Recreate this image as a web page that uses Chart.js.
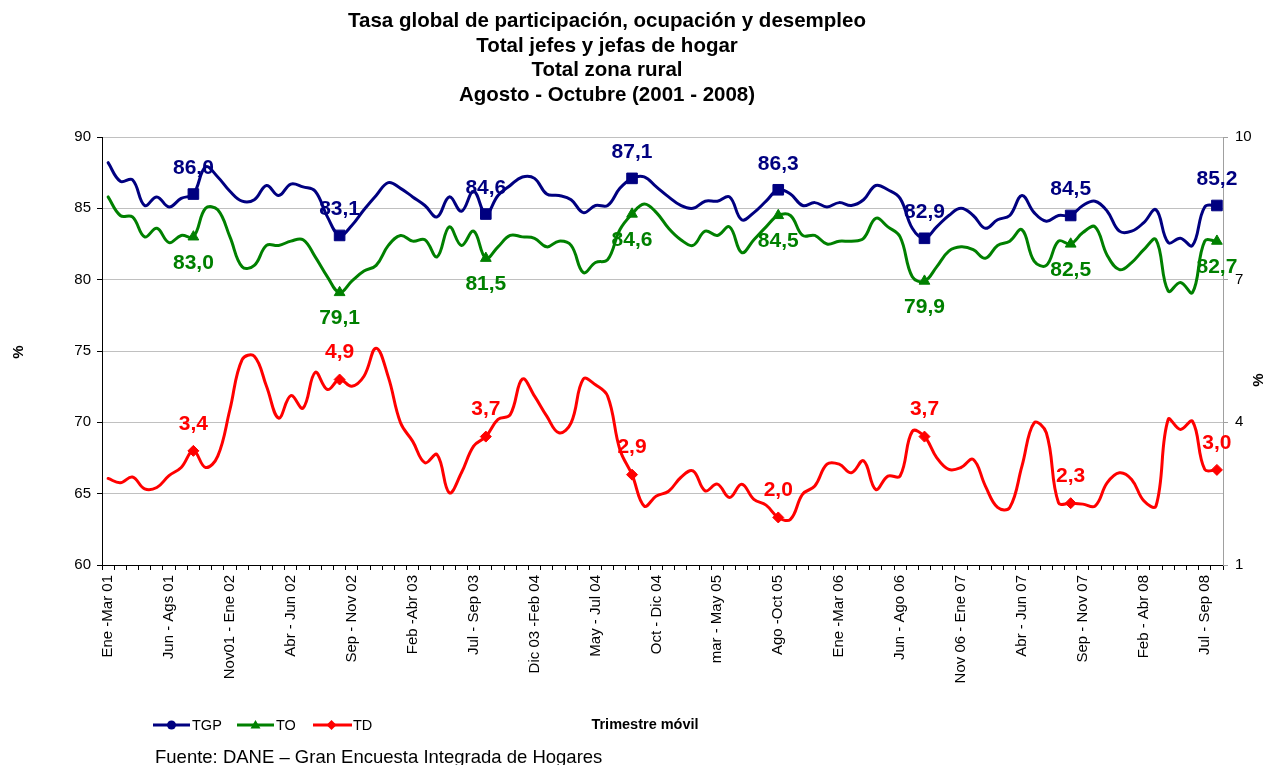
<!DOCTYPE html>
<html lang="es">
<head>
<meta charset="utf-8">
<title>Tasa global de participación, ocupación y desempleo</title>
<script src="https://cdn.jsdelivr.net/npm/chart.js@4.4.1/dist/chart.umd.min.js"></script>
<style>
  body { margin: 0; background: #fff; }
  #wrap { position: relative; width: 1265px; height: 765px; font-family: "Liberation Sans", Arial, sans-serif; color: #000; overflow: hidden; }
  #c { position: absolute; left: 0; top: 0; }
  .title { position: absolute; left: 307px; width: 600px; top: 8px; text-align: center; font-weight: bold; font-size: 20.5px; line-height: 24.6px; }
  .pct { position: absolute; width: 20px; height: 18px; text-align: center; font-weight: bold; font-size: 15px; line-height: 18px; transform: rotate(-90deg); }
  .xtitle { position: absolute; left: 545px; width: 200px; top: 715px; text-align: center; font-weight: bold; font-size: 14.5px; line-height: 18px; }
  .leg { position: absolute; top: 716px; font-size: 14.5px; line-height: 18px; }
  .foot { position: absolute; left: 155px; top: 746px; font-size: 18.5px; line-height: 22px; white-space: nowrap; }
</style>
</head>
<body>
<div id="wrap">
  <canvas id="c" width="1265" height="765"></canvas>
  <div class="title">Tasa global de participación, ocupación y desempleo<br>Total jefes y jefas de hogar<br>Total zona rural<br>Agosto - Octubre (2001 - 2008)</div>
  <div class="pct" style="left:8px;top:343px">%</div>
  <div class="pct" style="left:1248px;top:371px">%</div>
  <svg style="position:absolute;left:140px;top:715px" width="240" height="20">
    <line x1="13" y1="10" x2="50" y2="10" stroke="#000080" stroke-width="3"/>
    <circle cx="31.5" cy="10" r="4.5" fill="#000080"/>
    <line x1="97" y1="10" x2="134" y2="10" stroke="#008000" stroke-width="3"/>
    <polygon points="115.5,5 120.5,13.5 110.5,13.5" fill="#008000"/>
    <line x1="173" y1="10" x2="212" y2="10" stroke="#ff0000" stroke-width="3"/>
    <polygon points="191.5,5 196.5,10 191.5,15 186.5,10" fill="#ff0000"/>
  </svg>
  <div class="leg" style="left:192px">TGP</div>
  <div class="leg" style="left:276px">TO</div>
  <div class="leg" style="left:353px">TD</div>
  <div class="xtitle">Trimestre móvil</div>
  <div class="foot">Fuente: DANE – Gran Encuesta Integrada de Hogares</div>
</div>
<script>
// ── Data: trimestres móviles Ene-Mar 01 ... Ago-Oct 08 ──────────────────────
const periods = [
  'Ene -Mar 01', 'Feb-Abr 01', 'Mar-May 01', 'Abr-Jun 01', 'May-Jul 01', 'Jun - Ags 01', 'Jul-Sep 01', 'Ago-Oct 01', 'Sep-Nov 01', 'Oct-Dic 01',
  'Nov01 - Ene 02', 'Dic 01-Feb 02', 'Ene-Mar 02', 'Feb-Abr 02', 'Mar-May 02', 'Abr - Jun 02', 'May-Jul 02', 'Jun-Ago 02', 'Jul-Sep 02', 'Ago-Oct 02',
  'Sep - Nov 02', 'Oct-Dic 02', 'Nov 02-Ene 03', 'Dic 02-Feb 03', 'Ene-Mar 03', 'Feb -Abr 03', 'Mar-May 03', 'Abr-Jun 03', 'May-Jul 03', 'Jun-Ago 03',
  'Jul - Sep 03', 'Ago-Oct 03', 'Sep-Nov 03', 'Oct-Dic 03', 'Nov 03-Ene 04', 'Dic 03 -Feb 04', 'Ene-Mar 04', 'Feb-Abr 04', 'Mar-May 04', 'Abr-Jun 04',
  'May - Jul 04', 'Jun-Ago 04', 'Jul-Sep 04', 'Ago-Oct 04', 'Sep-Nov 04', 'Oct - Dic 04', 'Nov 04-Ene 05', 'Dic 04-Feb 05', 'Ene-Mar 05', 'Feb-Abr 05',
  'mar - May 05', 'Abr-Jun 05', 'May-Jul 05', 'Jun-Ago 05', 'Jul-Sep 05', 'Ago -Oct 05', 'Sep-Nov 05', 'Oct-Dic 05', 'Nov 05-Ene 06', 'Dic 05-Feb 06',
  'Ene -Mar 06', 'Feb-Abr 06', 'Mar-May 06', 'Abr-Jun 06', 'May-Jul 06', 'Jun - Ago 06', 'Jul-Sep 06', 'Ago-Oct 06', 'Sep-Nov 06', 'Oct-Dic 06',
  'Nov 06 - Ene 07', 'Dic 06-Feb 07', 'Ene-Mar 07', 'Feb-Abr 07', 'Mar-May 07', 'Abr - Jun 07', 'May-Jul 07', 'Jun-Ago 07', 'Jul-Sep 07', 'Ago-Oct 07',
  'Sep - Nov 07', 'Oct-Dic 07', 'Nov 07-Ene 08', 'Dic 07-Feb 08', 'Ene-Mar 08', 'Feb - Abr 08', 'Mar-May 08', 'Abr-Jun 08', 'May-Jul 08', 'Jun-Ago 08',
  'Jul - Sep 08', 'Ago-Oct 08'
];

const tgp = [
  88.2, 86.9, 87.0, 85.2, 85.8, 85.1, 85.7, 86.0, 87.9, 87.2,
  86.2, 85.5, 85.6, 86.6, 85.9, 86.7, 86.5, 86.2, 84.4, 83.1,
  83.8, 84.9, 85.9, 86.8, 86.4, 85.8, 85.2, 84.4, 85.8, 84.8,
  86.2, 84.6, 85.9, 86.6, 87.2, 87.1, 86.0, 85.9, 85.6, 84.7,
  85.2, 85.2, 86.4, 87.1, 87.2, 86.5, 85.8, 85.2, 85.0, 85.5,
  85.5, 85.8, 84.2, 84.7, 85.5, 86.3, 86.0, 85.2, 85.4, 85.1,
  85.4, 85.2, 85.6, 86.6, 86.3, 85.7, 83.6, 82.9, 83.7, 84.5,
  85.0, 84.5, 83.6, 84.2, 84.5, 85.9, 84.7, 84.1, 84.5, 84.5,
  85.2, 85.5, 84.8, 83.4, 83.4, 84.0, 84.9, 82.6, 82.9, 82.4,
  85.1, 85.2
];

const to = [
  85.8, 84.5, 84.4, 83.0, 83.6, 82.6, 83.1, 83.0, 85.0, 84.9,
  83.0, 80.9, 81.0, 82.4, 82.4, 82.7, 82.8, 81.6, 80.2, 79.1,
  79.9, 80.6, 81.0, 82.4, 83.1, 82.7, 82.8, 81.6, 83.7, 82.4,
  83.4, 81.5, 82.3, 83.1, 83.0, 82.9, 82.3, 82.7, 82.4, 80.5,
  81.2, 81.4, 83.5, 84.6, 85.3, 84.7, 83.6, 82.8, 82.4, 83.4,
  83.1, 83.7, 81.9, 82.8, 83.7, 84.5, 84.5, 83.1, 83.1, 82.5,
  82.7, 82.7, 82.9, 84.3, 83.7, 83.0, 80.2, 79.9, 80.9, 82.0,
  82.3, 82.1, 81.5, 82.4, 82.7, 83.5, 81.3, 81.0, 82.7, 82.5,
  83.3, 83.7, 81.7, 80.7, 81.2, 82.1, 82.8, 79.2, 79.8, 79.1,
  82.7, 82.7
];

const td = [
  2.82, 2.73, 2.85, 2.60, 2.63, 2.88, 3.05, 3.4, 3.05, 3.29,
  4.27, 5.32, 5.39, 4.76, 4.09, 4.56, 4.30, 5.05, 4.69, 4.9,
  4.76, 4.97, 5.56, 4.95, 3.99, 3.60, 3.15, 3.32, 2.52, 2.94,
  3.50, 3.7, 4.06, 4.16, 4.91, 4.55, 4.13, 3.78, 3.99, 4.91,
  4.79, 4.55, 3.43, 2.9, 2.24, 2.45, 2.55, 2.84, 2.98, 2.56,
  2.70, 2.42, 2.70, 2.38, 2.26, 2.0, 1.96, 2.49, 2.66, 3.12,
  3.12, 2.94, 3.19, 2.59, 2.87, 2.87, 3.81, 3.7, 3.26, 3.01,
  3.05, 3.22, 2.66, 2.21, 2.21, 3.08, 3.99, 3.78, 2.31, 2.3,
  2.28, 2.24, 2.73, 2.94, 2.80, 2.35, 2.24, 4.06, 3.85, 4.02,
  3.01, 3.0
];

const leftTicks = [60, 65, 70, 75, 80, 85, 90];
const rightTicks = [1, 4, 7, 10];

// Ago-Oct of each year carries a marker and a value label
const isMarked = i => i % 12 === 7;
const FONT = '"Liberation Sans", Arial, sans-serif';

const markerLabels = {
  id: 'markerLabels',
  afterDatasetsDraw(chart) {
    const ctx = chart.ctx;
    ctx.save();
    ctx.font = `bold 21px ${FONT}`;
    ctx.textAlign = 'center';
    ctx.textBaseline = 'middle';
    chart.data.datasets.forEach((ds, di) => {
      const meta = chart.getDatasetMeta(di);
      meta.data.forEach((pt, i) => {
        if (!isMarked(i)) return;
        ctx.fillStyle = ds.borderColor;
        ctx.fillText(ds.data[i].toFixed(1).replace('.', ','), pt.x, pt.y + ds.labelDy);
      });
    });
    ctx.restore();
  }
};

function series(label, data, color, style, radius, axis, labelDy) {
  return {
    label, data, yAxisID: axis, labelDy,
    borderColor: color, backgroundColor: color,
    borderWidth: 3, borderCapStyle: 'round', borderJoinStyle: 'round',
    tension: 0.4, fill: false,
    pointStyle: style,
    pointRadius: ctx => isMarked(ctx.dataIndex) ? radius : 0,
    pointBorderWidth: 1,
    pointBorderColor: color, pointBackgroundColor: color
  };
}

new Chart(document.getElementById('c'), {
  type: 'line',
  data: {
    labels: periods,
    datasets: [
      series('TGP', tgp, '#000080', 'rect', 7.5, 'y', -26),
      series('TO', to, '#008000', 'triangle', 6.2, 'y', 26),
      series('TD', td, '#ff0000', 'rectRot', 5.5, 'y2', -27)
    ]
  },
  options: {
    responsive: false,
    devicePixelRatio: 1,
    animation: false,
    events: [],
    layout: { padding: { left: 0, right: 0, top: 137, bottom: 0 } },
    plugins: { legend: { display: false }, title: { display: false }, tooltip: { enabled: false } },
    scales: {
      x: {
        type: 'category',
        offset: true,
        afterFit: s => { s.height = 200; },
        grid: { offset: true, drawOnChartArea: false, tickLength: 5, color: '#000' },
        border: { color: '#000', width: 1 },
        ticks: {
          autoSkip: false, minRotation: 90, maxRotation: 90, padding: 5,
          color: '#000', font: { family: FONT, size: 15 },
          callback: (v, i) => (i % 5 === 0 ? periods[i] : '')
        }
      },
      y: {
        position: 'left',
        min: leftTicks[0], max: leftTicks[leftTicks.length - 1],
        afterFit: s => { s.width = 102; },
        afterBuildTicks: s => { s.ticks = leftTicks.map(v => ({ value: v })); },
        grid: { color: '#c0c0c0', tickColor: '#000', tickLength: 5 },
        border: { color: '#000', width: 1 },
        ticks: { padding: 6, color: '#000', font: { family: FONT, size: 15 } }
      },
      y2: {
        position: 'right',
        min: rightTicks[0], max: rightTicks[rightTicks.length - 1],
        afterFit: s => { s.width = 42; },
        afterBuildTicks: s => { s.ticks = rightTicks.map(v => ({ value: v })); },
        grid: { drawOnChartArea: false, color: '#a0a0a0', tickLength: 5 },
        border: { color: '#a0a0a0', width: 1 },
        ticks: { padding: 7, color: '#000', font: { family: FONT, size: 15 } }
      }
    }
  },
  plugins: [markerLabels]
});
</script>
</body>
</html>
